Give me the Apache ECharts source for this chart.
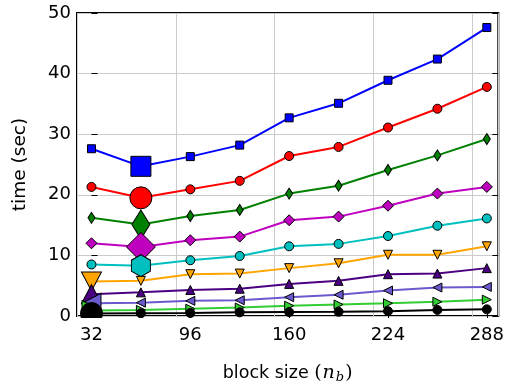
<!DOCTYPE html>
<html>
<head>
<meta charset="utf-8">
<script src="https://cdn.jsdelivr.net/npm/echarts@6.0.0/dist/echarts.min.js"></script>
<style>
html,body{margin:0;padding:0;background:#fff;}
#chart{width:507px;height:389px;}
</style>
</head>
<body>
<div id="chart"></div>
<script>
// ---- data ----
const blockSizes = [32, 64, 96, 128, 160, 192, 224, 256, 288];
const xTicks = [32, 96, 160, 224, 288];
const yTicks = [0, 10, 20, 30, 40, 50];

const tBlue    = [27.6, 24.7, 26.3, 28.2, 32.7, 35.1, 38.9, 42.4, 47.6];
const tRed     = [21.3, 19.5, 20.9, 22.3, 26.4, 27.9, 31.1, 34.2, 37.8];
const tGreen   = [16.2, 15.1, 16.5, 17.5, 20.2, 21.5, 24.1, 26.5, 29.2];
const tMagenta = [12.0, 11.4, 12.5, 13.1, 15.8, 16.4, 18.2, 20.2, 21.3];
const tCyan    = [8.5, 8.3, 9.2, 9.9, 11.5, 11.9, 13.2, 14.9, 16.1];
const tOrange  = [5.7, 5.8, 6.9, 7.0, 7.9, 8.7, 10.1, 10.1, 11.5];
const tIndigo  = [3.6, 3.9, 4.3, 4.5, 5.3, 5.8, 6.9, 7.0, 7.9];
const tSlate   = [2.1, 2.2, 2.5, 2.6, 3.1, 3.5, 4.2, 4.7, 4.8];
const tLime    = [0.9, 1.0, 1.2, 1.4, 1.7, 1.9, 2.1, 2.35, 2.7];
const tBlack   = [0.4, 0.45, 0.5, 0.6, 0.65, 0.7, 0.8, 1.0, 1.1];

// index of the highlighted (best) block size per series
const bestIdx = [1, 1, 1, 1, 1, 0, 0, 0, 0, 0];

// ---- styles ----
const HEX = 'path://M0,-10L8.66,-5L8.66,5L0,10L-8.66,5L-8.66,-5Z';
const TRI_DOWN = 'path://M0,0L10,0L5,10Z';
const TRI_LEFT = 'path://M0,5L10,0L10,10Z';
const TRI_RIGHT = 'path://M0,0L10,5L0,10Z';

const styles = [
  {vals: tBlue,    color: '#0000ff', sym: 'rect',     size: 8,      big: 'rect',     bigSize: 20},
  {vals: tRed,     color: '#ff0000', sym: 'circle',   size: 9,      big: 'circle',   bigSize: 22},
  {vals: tGreen,   color: '#008000', sym: 'diamond',  size: [7,11], big: 'diamond',  bigSize: [18,29]},
  {vals: tMagenta, color: '#bf00bf', sym: 'diamond',  size: 11,     big: 'diamond',  bigSize: 29},
  {vals: tCyan,    color: '#00bfbf', sym: 'circle',   size: 9,      big: HEX,        bigSize: [19,22]},
  {vals: tOrange,  color: '#ffa500', sym: TRI_DOWN,   size: 9,      big: TRI_DOWN,   bigSize: [20,19]},
  {vals: tIndigo,  color: '#4b0082', sym: 'triangle', size: 9,      big: 'triangle', bigSize: [20,19]},
  {vals: tSlate,   color: '#6a5acd', sym: TRI_LEFT,   size: 9,      big: TRI_LEFT,   bigSize: [19,20]},
  {vals: tLime,    color: '#32cd32', sym: TRI_RIGHT,  size: 9,      big: TRI_RIGHT,  bigSize: [19,20]},
  {vals: tBlack,   color: '#000000', sym: 'circle',   size: 9,      big: 'circle',   bigSize: 22}
];

const X_MIN = 22.626, X_MAX = 295.434;
const PLOT_H = 304;
const X_STEP = xTicks[1] - xTicks[0];

const series = styles.map((s, k) => ({
  type: 'line',
  symbol: s.sym,
  symbolSize: s.size,
  showAllSymbol: true,
  xAxisIndex: 0,
  yAxisIndex: 0,
  animation: false,
  z: 3 + k,
  lineStyle: {color: s.color, width: 2},
  itemStyle: {color: s.color, borderColor: '#000', borderWidth: 1},
  data: blockSizes.map((b, i) => {
    const item = {value: [b, s.vals[i]]};
    if (i === bestIdx[k]) { item.symbol = s.big; item.symbolSize = s.bigSize; }
    return item;
  })
}));

const font = 'DejaVu Sans';
const tickStyle = () => ({show: true, inside: true, length: 6, lineStyle: {color: '#000', width: 1}});
const chart = echarts.init(document.getElementById('chart'), null, {renderer: 'canvas'});
chart.setOption({
  animation: false,
  grid: {left: 77, top: 13, width: 422, height: PLOT_H, show: true, borderColor: '#000', borderWidth: 2},
  graphic: [{
    type: 'rect', z: 100,
    shape: {x: 70, y: 318, width: 440, height: 9},
    style: {fill: '#fff'}
  }],
  xAxis: [{
    type: 'value', min: X_MIN, max: X_MAX, position: 'bottom',
    axisLine: {show: false},
    axisTick: Object.assign({customValues: xTicks}, tickStyle()),
    axisLabel: {color: '#000', fontSize: 18, fontFamily: font, margin: 10, customValues: xTicks},
    splitLine: {show: false},
    name: '{a|block size }{p|(}{i|n}{s|b}{p|)}',
    nameLocation: 'middle', nameGap: 46,
    nameTextStyle: {
      rich: {
        a: {fontFamily: font, fontSize: 17.5, color: '#000'},
        p: {fontFamily: 'DejaVu Serif', fontSize: 19, color: '#000'},
        i: {fontFamily: 'DejaVu Serif', fontStyle: 'italic', fontSize: 19, color: '#000', padding: [0, 1, 0, 1]},
        s: {fontFamily: 'DejaVu Serif', fontStyle: 'italic', fontSize: 13, color: '#000', padding: [9, 1, 0, 0]}
      }
    }
  }, {
    type: 'value', min: X_MIN, max: X_MAX, position: 'top',
    axisLine: {show: false},
    axisTick: Object.assign({customValues: xTicks}, tickStyle()),
    axisLabel: {show: false},
    splitLine: {show: false}
  }, {
    // helper axis, shifted so its multiples of X_STEP fall on the x tick values: draws the vertical grid lines
    type: 'value', min: X_MIN - xTicks[0], max: X_MAX - xTicks[0], interval: X_STEP, position: 'top',
    axisLine: {show: false},
    axisTick: {show: false},
    axisLabel: {show: false},
    splitLine: {show: true, lineStyle: {color: '#cbcbcb', width: 1}}
  }],
  yAxis: [{
    type: 'value', min: 0, max: 50, interval: 10, position: 'left',
    axisLine: {show: false},
    axisTick: tickStyle(),
    axisLabel: {color: '#000', fontSize: 18, fontFamily: font, margin: 6},
    splitLine: {show: true, lineStyle: {color: '#cbcbcb', width: 1}},
    name: 'time (sec)', nameLocation: 'middle', nameGap: 47,
    nameTextStyle: {fontFamily: font, fontSize: 18.5, color: '#000'}
  }, {
    type: 'value', min: 0, max: 50, interval: 10, position: 'right',
    axisLine: {show: false},
    axisTick: tickStyle(),
    axisLabel: {show: false},
    splitLine: {show: false}
  }],
  series: series
});
</script>
</body>
</html>
